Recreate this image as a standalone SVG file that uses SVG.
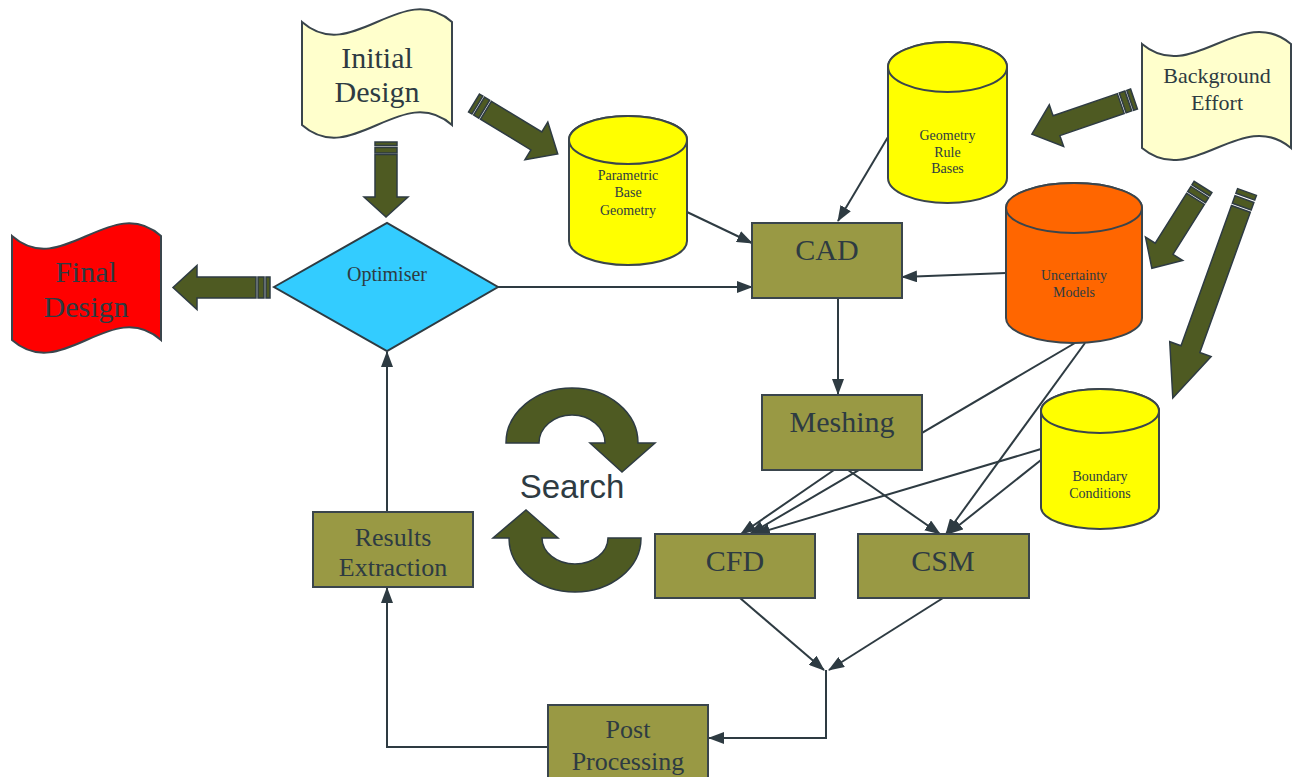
<svg xmlns="http://www.w3.org/2000/svg" width="1292" height="777" viewBox="0 0 1292 777">
<defs>
<marker id="ah" viewBox="0 0 16 12" refX="15" refY="6" markerWidth="16" markerHeight="12" markerUnits="userSpaceOnUse" orient="auto">
<path d="M0,0 L16,6 L0,12 Z" fill="#2e3b42"/>
</marker>
<style>
.conn{fill:none;stroke:#2e3b42;stroke-width:2}
.arr{marker-end:url(#ah)}
.box{fill:#999944;stroke:#3a454c;stroke-width:2}
.doc{fill:#ffffcc;stroke:#3a454c;stroke-width:2}
.cyl{stroke:#3a454c;stroke-width:2}
.blk{fill:#4e5a22;stroke:#2e3b42;stroke-width:1.5;stroke-linejoin:miter}
.t{font-family:"Liberation Serif","Times New Roman",serif;fill:#2e3b42;text-anchor:middle}
.s{font-family:"Liberation Sans",Arial,sans-serif;fill:#2e3b42;text-anchor:middle}
</style>
</defs>
<rect width="1292" height="777" fill="#ffffff"/>

<g id="connectors">
<line class="conn arr" x1="498" y1="287" x2="752" y2="287"/>
<line class="conn arr" x1="687" y1="212" x2="752" y2="243"/>
<line class="conn arr" x1="888" y1="137" x2="838" y2="221"/>
<line class="conn arr" x1="1006" y1="273" x2="902" y2="277"/>
<line class="conn arr" x1="838" y1="298" x2="838" y2="394"/>
<line class="conn arr" x1="1075" y1="343" x2="750" y2="534"/>
<line class="conn arr" x1="834" y1="470" x2="741" y2="534"/>
<line class="conn arr" x1="1041" y1="449" x2="755" y2="534"/>
<line class="conn arr" x1="848" y1="470" x2="940" y2="534"/>
<line class="conn arr" x1="1085" y1="343" x2="946" y2="534"/>
<line class="conn arr" x1="1041" y1="460" x2="948" y2="534"/>
<line class="conn arr" x1="740" y1="598" x2="824" y2="670"/>
<line class="conn arr" x1="943" y1="598" x2="829" y2="670"/>
<path class="conn arr" d="M826,670 V738 H709"/>
<path class="conn arr" d="M548,747 H387 V588"/>
<path class="conn arr" d="M387,512 V352"/>
</g>

<g id="block-arrows">
<g transform="translate(270,287.5) rotate(180)">
<path class="blk" d="M0,-10.5 h4 v21 h-4 z M6,-10.5 h6 v21 h-6 z"/>
<path class="blk" d="M14,-10.5 H73 V-22 L97,0 L73,22 V10.5 H14 Z"/>
</g>
<g transform="translate(386,142) rotate(90)">
<path class="blk" d="M0,-11 h3.5 v22 h-3.5 z M5.5,-11 h5.5 v22 h-5.5 z"/>
<path class="blk" d="M12.5,-11 H55 V-22 L75,0 L55,22 V11 H12.5 Z"/>
</g>
<g transform="translate(474,103) rotate(31.3)">
<path class="blk" d="M0,-10.5 h4 v21 h-4 z M6,-10.5 h6 v21 h-6 z"/>
<path class="blk" d="M14,-10.5 H73 V-22 L98,0 L73,22 V10.5 H14 Z"/>
</g>
<g transform="translate(1134,99) rotate(161)">
<path class="blk" d="M0,-10.5 h4 v21 h-4 z M6,-10.5 h6 v21 h-6 z"/>
<path class="blk" d="M14,-10.5 H82 V-22 L108,0 L82,22 V10.5 H14 Z"/>
</g>
<g transform="translate(1203,187) rotate(122.2)">
<path class="blk" d="M0,-10.5 h4 v21 h-4 z M6,-10.5 h6 v21 h-6 z"/>
<path class="blk" d="M14,-10.5 H73 V-22 L96,0 L73,22 V10.5 H14 Z"/>
</g>
<g transform="translate(1247,192) rotate(109.8)">
<path class="blk" d="M0,-10 h5 v20 h-5 z M7.5,-10 h8 v20 h-8 z"/>
<path class="blk" d="M18,-10 H167 V-22 L219,0 L167,22 V10 H18 Z"/>
</g>
</g>

<g id="search">
<path class="blk" d="M506,443 A66,55 0 0 1 638,443 L655,443 L622,472 L590,443 L605,443 A33,28 0 0 0 539,443 Z"/>
<path class="blk" d="M641,538 A66,54 0 0 1 509,538 L493,538 L526,510 L558,538 L542,538 A33,26 0 0 0 608,538 Z"/>
<text class="s" x="572" y="498" font-size="33">Search</text>
</g>

<g id="initial-design">
<path class="doc" d="M302,22 C352,66 402,-22 452,22 L452,125 C402,81 352,169 302,125 Z"/>
<text class="t" x="377" y="68" font-size="30">Initial</text>
<text class="t" x="377" y="102" font-size="30">Design</text>
</g>

<g id="final-design">
<path class="doc" style="fill:#ff0000" d="M12,236 C62,280 111,192 161,236 L161,340 C111,296 62,384 12,340 Z"/>
<text class="t" x="86" y="282" font-size="30">Final</text>
<text class="t" x="86" y="317" font-size="30">Design</text>
</g>

<g id="background-effort">
<path class="doc" d="M1142,44 C1192,86 1241,2 1291,44 L1291,148 C1241,106 1192,190 1142,148 Z"/>
<text class="t" x="1217" y="83" font-size="22">Background</text>
<text class="t" x="1217" y="110" font-size="22">Effort</text>
</g>

<g id="optimiser">
<path d="M274,287 L387,223 L498,287 L387,351 Z" fill="#33ccff" stroke="#2e3b42" stroke-width="2"/>
<text class="t" x="387" y="281" font-size="20">Optimiser</text>
</g>

<g id="parametric-base-geometry">
<path class="cyl" fill="#ffff00" d="M569,140 L569,241 A59,24 0 0 0 687,241 L687,140 A59,24 0 0 0 569,140 Z"/>
<ellipse class="cyl" fill="#ffff00" cx="628" cy="140" rx="59" ry="24"/>
<text class="t" x="628" y="180" font-size="14">Parametric</text>
<text class="t" x="628" y="197" font-size="14">Base</text>
<text class="t" x="628" y="215" font-size="14">Geometry</text>
</g>

<g id="geometry-rule-bases">
<path class="cyl" fill="#ffff00" d="M888,67 L888,178 A59.5,25 0 0 0 1007,178 L1007,67 A59.5,25 0 0 0 888,67 Z"/>
<ellipse class="cyl" fill="#ffff00" cx="947.5" cy="67" rx="59.5" ry="25"/>
<text class="t" x="947.5" y="140" font-size="14">Geometry</text>
<text class="t" x="947.5" y="156.5" font-size="14">Rule</text>
<text class="t" x="947.5" y="173" font-size="14">Bases</text>
</g>

<g id="uncertainty-models">
<path class="cyl" fill="#ff6600" d="M1006,208 L1006,318 A68,25 0 0 0 1142,318 L1142,208 A68,25 0 0 0 1006,208 Z"/>
<ellipse class="cyl" fill="#ff6600" cx="1074" cy="208" rx="68" ry="25"/>
<text class="t" x="1074" y="280" font-size="14">Uncertainty</text>
<text class="t" x="1074" y="297" font-size="14">Models</text>
</g>

<g id="boundary-conditions">
<path class="cyl" fill="#ffff00" d="M1041,411 L1041,507 A59,22 0 0 0 1159,507 L1159,411 A59,22 0 0 0 1041,411 Z"/>
<ellipse class="cyl" fill="#ffff00" cx="1100" cy="411" rx="59" ry="22"/>
<text class="t" x="1100" y="481" font-size="14">Boundary</text>
<text class="t" x="1100" y="498" font-size="14">Conditions</text>
</g>

<g id="cad">
<rect class="box" x="752" y="223" width="150" height="75"/>
<text class="t" x="827" y="260" font-size="30">CAD</text>
</g>

<g id="meshing">
<rect class="box" x="762" y="395" width="160" height="75"/>
<text class="t" x="842" y="432" font-size="30">Meshing</text>
</g>

<g id="cfd">
<rect class="box" x="655" y="534" width="160" height="64"/>
<text class="t" x="735" y="571" font-size="30">CFD</text>
</g>

<g id="csm">
<rect class="box" x="858" y="534" width="171" height="64"/>
<text class="t" x="943" y="571" font-size="30">CSM</text>
</g>

<g id="results-extraction">
<rect class="box" x="313" y="512" width="160" height="75"/>
<text class="t" x="393" y="546" font-size="26">Results</text>
<text class="t" x="393" y="576" font-size="26">Extraction</text>
</g>

<g id="post-processing">
<rect class="box" x="548" y="705" width="160" height="80"/>
<text class="t" x="628" y="738" font-size="26">Post</text>
<text class="t" x="628" y="770" font-size="26">Processing</text>
</g>
</svg>
